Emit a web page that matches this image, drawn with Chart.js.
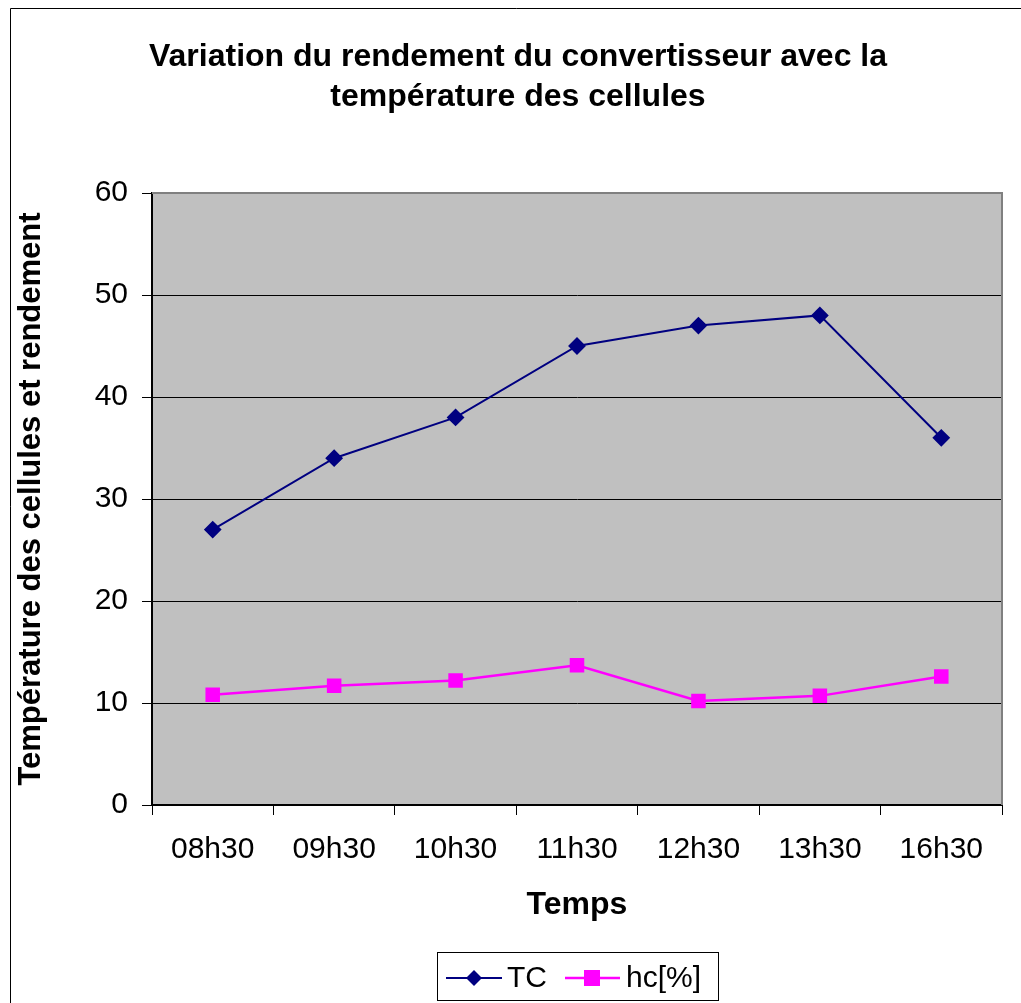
<!DOCTYPE html>
<html>
<head>
<meta charset="utf-8">
<script src="https://cdn.jsdelivr.net/npm/chart.js@4"></script>
<style>
html,body{margin:0;padding:0;background:#fff;}
#wrap{width:1021px;height:1003px;position:relative;}
</style>
</head>
<body>
<div id="wrap"><canvas id="c" width="1021" height="1003"></canvas></div>
<script>
const categories = ["08h30","09h30","10h30","11h30","12h30","13h30","16h30"];
const tcValues = [27, 34, 38, 45, 47, 48, 36];
const hcValues = [10.8, 11.7, 12.2, 13.7, 10.2, 10.7, 12.6];
const titleLines = ["Variation du rendement du convertisseur avec la", "température des cellules"];
const yTitle = "Température des cellules et rendement";
const xTitle = "Temps";
const seriesNames = ["TC", "hc[%]"];
const FONT = "'Liberation Sans', Arial, sans-serif";

const decor = {
  id: 'decor',
  beforeDraw(chart) {
    const {ctx, chartArea: a} = chart;
    ctx.save();
    ctx.fillStyle = '#fff';
    ctx.fillRect(0, 0, chart.width, chart.height);
    ctx.fillStyle = '#C0C0C0';
    ctx.fillRect(a.left, a.top, a.right - a.left, a.bottom - a.top);
    ctx.restore();
  },
  afterDraw(chart) {
    const {ctx, chartArea: a} = chart;
    ctx.save();
    // plot-area border top/right
    ctx.strokeStyle = '#808080';
    ctx.lineWidth = 2;
    ctx.beginPath();
    ctx.moveTo(a.left, a.top);
    ctx.lineTo(a.right, a.top);
    ctx.lineTo(a.right, a.bottom);
    ctx.stroke();
    // outer border
    ctx.strokeStyle = '#000';
    ctx.lineWidth = 1;
    ctx.beginPath();
    ctx.moveTo(10.5, chart.height + 2);
    ctx.lineTo(10.5, 8.5);
    ctx.lineTo(chart.width + 2, 8.5);
    ctx.stroke();
    // title
    ctx.fillStyle = '#000';
    ctx.font = 'bold 32px ' + FONT;
    ctx.textAlign = 'center';
    ctx.textBaseline = 'middle';
    ctx.fillText(titleLines[0], 518, 57);
    ctx.fillText(titleLines[1], 518, 97);
    // legend
    const lx = 437.5, ly = 952.5, lw = 281, lh = 48;
    ctx.strokeStyle = '#000';
    ctx.lineWidth = 1;
    ctx.strokeRect(lx, ly, lw, lh);
    const cy = 978;
    const ds = chart.data.datasets;
    // TC
    ctx.strokeStyle = ds[0].borderColor; ctx.lineWidth = 2;
    ctx.beginPath(); ctx.moveTo(446, cy); ctx.lineTo(502, cy); ctx.stroke();
    ctx.fillStyle = ds[0].borderColor;
    ctx.beginPath(); ctx.moveTo(474, cy - 8); ctx.lineTo(482, cy); ctx.lineTo(474, cy + 8); ctx.lineTo(466, cy); ctx.closePath(); ctx.fill();
    ctx.fillStyle = '#000';
    ctx.font = '30px ' + FONT;
    ctx.textAlign = 'left';
    ctx.fillText(seriesNames[0], 507, cy + 1);
    // hc
    ctx.strokeStyle = ds[1].borderColor; ctx.lineWidth = 2.5;
    ctx.beginPath(); ctx.moveTo(565, cy); ctx.lineTo(620, cy); ctx.stroke();
    ctx.fillStyle = ds[1].borderColor;
    ctx.fillRect(584, cy - 8, 16, 16);
    ctx.fillStyle = '#000';
    ctx.fillText(seriesNames[1], 626, cy + 1);
    ctx.restore();
  }
};

new Chart(document.getElementById('c'), {
  type: 'line',
  data: {
    labels: categories,
    datasets: [
      {
        label: seriesNames[0], data: tcValues,
        borderColor: '#000080', backgroundColor: '#000080',
        borderWidth: 2, pointStyle: 'rectRot', pointRadius: 7.5, pointHoverRadius: 7.5,
        tension: 0, fill: false
      },
      {
        label: seriesNames[1], data: hcValues,
        borderColor: '#FF00FF', backgroundColor: '#FF00FF',
        borderWidth: 2.5, pointStyle: 'rect', pointRadius: 8.5, pointHoverRadius: 8.5,
        tension: 0, fill: false
      }
    ]
  },
  options: {
    responsive: false,
    animation: false,
    events: [],
    layout: { padding: { left: 10, right: 19, top: 193, bottom: 78 } },
    plugins: { legend: { display: false }, title: { display: false }, tooltip: { enabled: false } },
    scales: {
      x: {
        offset: true,
        grid: {
          offset: true, drawOnChartArea: false, drawTicks: true, tickLength: 10,
          color: '#000', lineWidth: 1
        },
        border: { display: true, color: '#000', width: 2 },
        ticks: { color: '#000', font: { family: FONT, size: 30 }, padding: 17, maxRotation: 0, autoSkip: false },
        title: { display: true, text: xTitle, color: '#000', font: { family: FONT, size: 32, weight: 'bold' }, padding: { top: 0, bottom: 1 } },
        afterFit(s) { s.height = 120; }
      },
      y: {
        min: 0, max: 60,
        ticks: { stepSize: 10, color: '#000', font: { family: FONT, size: 30 }, padding: 14 },
        grid: {
          drawTicks: true, tickLength: 10, lineWidth: 1,
          color: (c) => (c.tick && (c.tick.value === 60 || c.tick.value === 0)) ? 'rgba(0,0,0,0)' : '#000',
          tickColor: '#000'
        },
        border: { display: true, color: '#000', width: 2 },
        title: { display: true, text: yTitle, color: '#000', font: { family: FONT, size: 31, weight: 'bold' }, padding: { top: 3, bottom: 0 } },
        afterFit(s) { s.width = 142; }
      }
    }
  },
  plugins: [decor]
});
</script>
</body>
</html>
